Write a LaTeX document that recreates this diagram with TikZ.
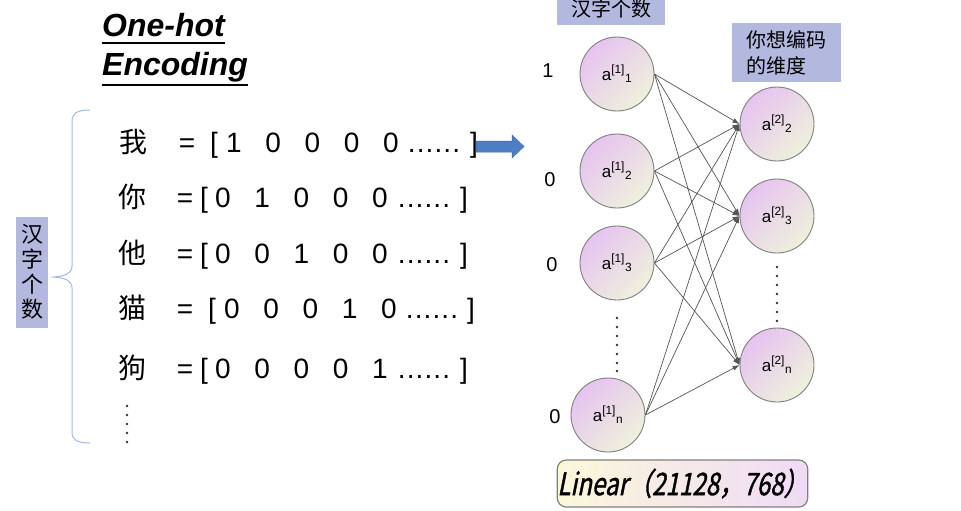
\documentclass[tikz,border=0pt]{standalone}
\usepackage{fontspec}
\setmainfont{Liberation Sans}
\newfontfamily\cjk{Noto Sans CJK SC}
\newfontfamily\linfont[FakeSlant=0.2,FakeStretch=0.78,FakeBold=1.2]{Noto Sans CJK SC}
\usetikzlibrary{arrows.meta}
\definecolor{tagblue}{HTML}{B3B8DE}
\definecolor{bracecol}{HTML}{A3BADF}
\definecolor{arrowblue}{HTML}{4E7FC4}
\definecolor{arrowedge}{HTML}{3A6AB0}
\definecolor{npink}{HTML}{E6C3F0}
\definecolor{ngreen}{HTML}{EEF1DC}
\definecolor{nedge}{HTML}{808080}
\definecolor{conncol}{HTML}{555555}
\definecolor{linyellow}{HTML}{FBF8DA}
\definecolor{linpink}{HTML}{F0DAF6}
\newcommand{\sixdots}{.\hspace{1.1pt}.\hspace{1.1pt}.\hspace{1.1pt}.\hspace{1.1pt}.\hspace{1.1pt}.}
\begin{document}
\begin{tikzpicture}[x=1pt,y=-1pt,
  txt/.style={inner sep=0pt, anchor=base, font=\fontsize{28}{30}\selectfont},
  cjktxt/.style={inner sep=0pt, anchor=base, font=\fontsize{28}{30}\selectfont\cjk},
  title/.style={inner sep=0pt, anchor=base west, font=\fontsize{32}{34}\selectfont\bfseries\itshape},
  neuron/.style={circle, draw=nedge, line width=0.9pt, minimum size=74pt, inner sep=0pt,
     top color=npink, bottom color=ngreen, shading angle=45, font=\fontsize{17}{19}\selectfont},
  conn/.style={draw=conncol, line width=0.7pt, -{Latex[length=7pt,width=5pt]}},
  lbl/.style={inner sep=0pt, font=\fontsize{20}{22}\selectfont},
  tagbox/.style={fill=tagblue, inner sep=0pt, font=\fontsize{20}{26}\selectfont\cjk},
  dotc/.style={fill=black!80}
]
\useasboundingbox (0,0) rectangle (961,511);
\fill[white] (0,0) rectangle (961,511);

% title
\node[title] (t1) at (102,37) {One-hot};
\node[title] (t2) at (102,75) {Encoding};
\draw[line width=2pt] ([yshift=-6pt]t1.base west) -- ([yshift=-6pt]t1.base east);
\draw[line width=2pt] ([yshift=-10pt]t2.base west) -- ([yshift=-10pt]t2.base east);

% brace
\draw[bracecol, line width=1pt] (90,110) .. controls (77,110) and (72,113) .. (72,122) -- (72,266)
  .. controls (72,273) and (66,276) .. (54,277) .. controls (66,278) and (72,281) .. (72,288)
  -- (72,432) .. controls (72,440) and (77,443) .. (90,443);
\node[tagbox, minimum width=32pt, minimum height=111pt, align=center, font=\fontsize{22}{25}\selectfont\cjk] (count) at (32,272) {汉\\字\\个\\数};

% rows
\node[cjktxt] (c1) at (133,152) {我};
\node[txt] (e1) at (187,152) {=};
\node[txt] (lb1) at (214,152) {[};
\foreach \v [count=\k] in {1,0,0,0,0} \node[txt] (d1\k) at ({234+39.2*(\k-1)},152) {\v};
\node[txt] (dots1) at (434,152) {\sixdots};
\node[txt] (rb1) at (474,152) {]};

\node[cjktxt] (c2) at (132,207) {你};
\node[txt] (e2) at (185,207) {=};
\node[txt] (lb2) at (204,207) {[};
\foreach \v [count=\k] in {0,1,0,0,0} \node[txt] (d2\k) at ({223+39.2*(\k-1)},207) {\v};
\node[txt] (dots2) at (424,207) {\sixdots};
\node[txt] (rb2) at (464,207) {]};

\node[cjktxt] (c3) at (132,263) {他};
\node[txt] (e3) at (185,263) {=};
\node[txt] (lb3) at (204,263) {[};
\foreach \v [count=\k] in {0,0,1,0,0} \node[txt] (d3\k) at ({223+39.2*(\k-1)},263) {\v};
\node[txt] (dots3) at (424,263) {\sixdots};
\node[txt] (rb3) at (464,263) {]};

\node[cjktxt] (c4) at (132,318) {猫};
\node[txt] (e4) at (185,318) {=};
\node[txt] (lb4) at (212,318) {[};
\foreach \v [count=\k] in {0,0,0,1,0} \node[txt] (d4\k) at ({232+39.2*(\k-1)},318) {\v};
\node[txt] (dots4) at (432,318) {\sixdots};
\node[txt] (rb4) at (471,318) {]};

\node[cjktxt] (c5) at (132,378) {狗};
\node[txt] (e5) at (185,378) {=};
\node[txt] (lb5) at (204,378) {[};
\foreach \v [count=\k] in {0,0,0,0,1} \node[txt] (d5\k) at ({223+39.2*(\k-1)},378) {\v};
\node[txt] (dots5) at (424,378) {\sixdots};
\node[txt] (rb5) at (464,378) {]};

\foreach \yy in {406,415,424,433,442} \fill[dotc] (127,\yy) circle (1.3pt);

% blue arrow
\filldraw[fill=arrowblue, draw=arrowedge, line width=0.5pt]
  (476,141) -- (512,141) -- (512,135) -- (524,146.5) -- (512,158) -- (512,152) -- (476,152) -- cycle;

% tags
\node[tagbox, minimum width=108pt, minimum height=32pt] (toptag) at (611,9) {汉字个数};
\node[tagbox, minimum width=109pt, minimum height=59pt, align=left, font=\fontsize{20}{26}\selectfont\cjk] (dimtag) at (786.5,52.5) {你想编码\\的维度};

% neurons
\node[neuron] (l1) at (617,74) {a\textsuperscript{[1]}\textsubscript{1}};
\node[neuron] (l2) at (617,171) {a\textsuperscript{[1]}\textsubscript{2}};
\node[neuron] (l3) at (617,263) {a\textsuperscript{[1]}\textsubscript{3}};
\node[neuron] (ln) at (608,415) {a\textsuperscript{[1]}\textsubscript{n}};
\node[neuron] (r2) at (777,124) {a\textsuperscript{[2]}\textsubscript{2}};
\node[neuron] (r3) at (777,216) {a\textsuperscript{[2]}\textsubscript{3}};
\node[neuron] (rn) at (777,365) {a\textsuperscript{[2]}\textsubscript{n}};

\node[lbl] (v1) at (548,71) {1};
\node[lbl] (v2) at (550,180) {0};
\node[lbl] (v3) at (552,265) {0};
\node[lbl] (vn) at (555,417) {0};

\foreach \yy in {318,327,336,345,354,363,371} \fill[dotc] (617,\yy) circle (1.3pt);
\foreach \yy in {267,276,285,294,303,312,321} \fill[dotc] (777,\yy) circle (1.3pt);

\foreach \a in {l1,l2,l3,ln}
  \foreach \b in {r2,r3,rn}
    \draw[conn] (\a.east) -- (\b.west);

% linear box
\node[rounded corners=9pt, draw=nedge, line width=1.2pt, left color=linyellow, right color=linpink,
  minimum width=249pt, minimum height=47pt, inner sep=0pt, font=\fontsize{31}{33}\selectfont\linfont] (lin) at (682.5,483.5) {Linear（21128，768）};
\end{tikzpicture}
\end{document}
